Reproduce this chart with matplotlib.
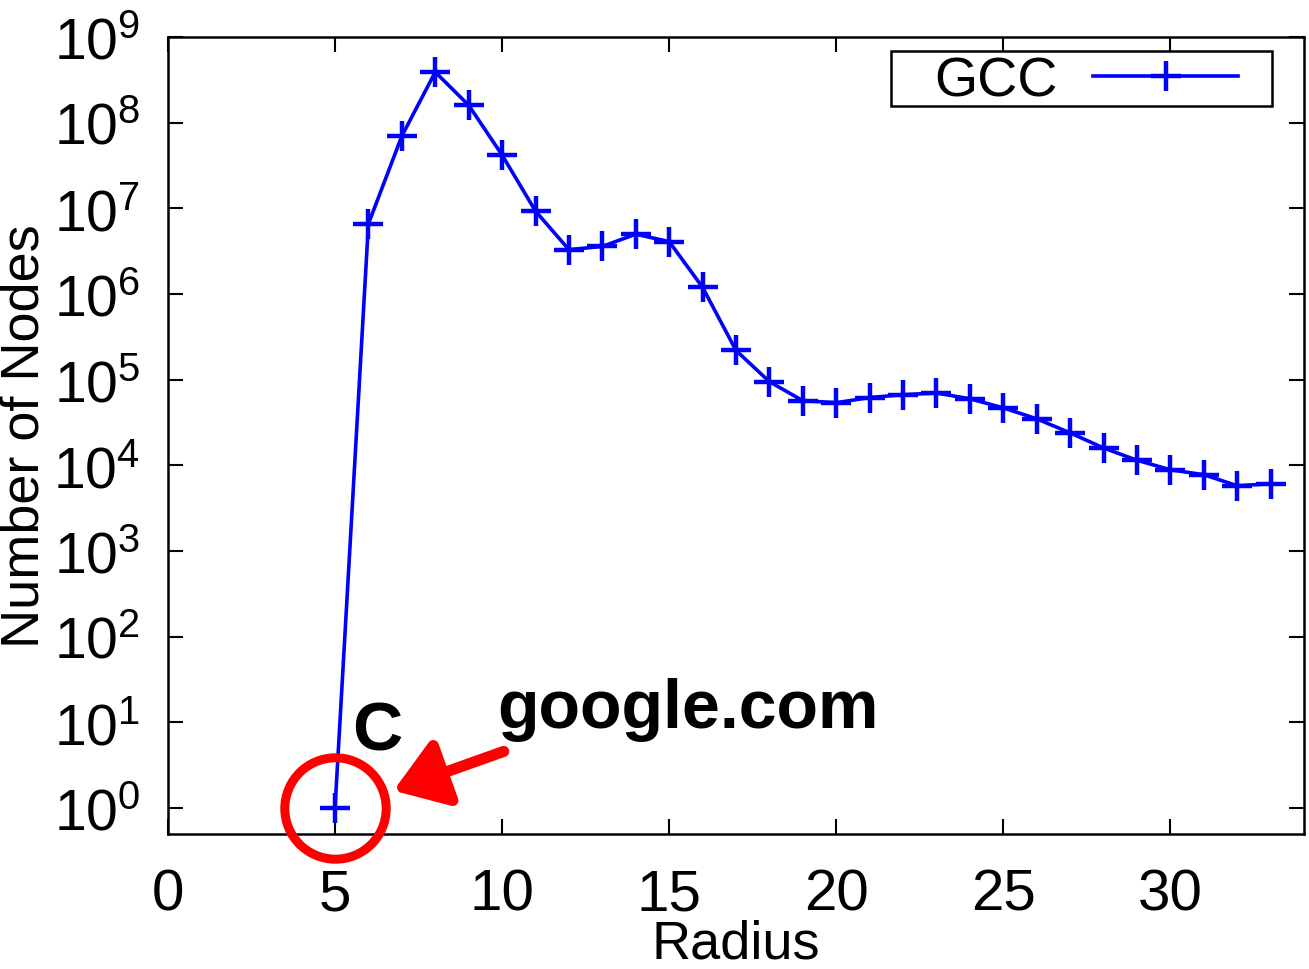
import matplotlib
matplotlib.use('Agg')
import matplotlib.pyplot as plt
from matplotlib.patches import Rectangle, FancyArrowPatch
from matplotlib.ticker import LogLocator, NullLocator

plt.rcParams['font.family'] = ['Liberation Sans', 'DejaVu Sans']

# GCC: number of nodes per radius
radius = [5, 6, 7, 8, 9, 10, 11, 12, 13, 14, 15, 16, 17, 18, 19,
          20, 21, 22, 23, 24, 25, 26, 27, 28, 29, 30, 31, 32, 33]
nodes = [1, 6.6e6, 7e7, 3.9e8, 1.6e8, 4.2e7, 9.3e6, 3.3e6, 3.6e6, 5e6,
         4.1e6, 1.2e6, 2.2e5, 9.5e4, 5.7e4, 5.4e4, 6.2e4, 6.7e4, 7e4,
         6e4, 4.7e4, 3.5e4, 2.4e4, 1.6e4, 1.15e4, 8.9e3, 7.8e3, 5.8e3, 6.1e3]
xticks = [0, 5, 10, 15, 20, 25, 30]
series_label = 'GCC'
note_label = 'google.com'
point_label = 'C'

fig = plt.figure(figsize=(13.09, 9.70), dpi=100, facecolor='white')
ax = fig.add_axes([0.1283, 0.1392, 0.8679, 0.8216])

ax.plot(radius, nodes, color='#0000ff', lw=2.6, marker='+', ms=22, mew=3.2,
        label=series_label)

ax.set_yscale('log')
ax.set_xlim(0, 34)
ax.set_ylim(0.5, 1e9)
ax.set_xticks(xticks)
ax.yaxis.set_major_locator(LogLocator(base=10, numticks=12))
ax.yaxis.set_minor_locator(NullLocator())
ax.tick_params(which='major', direction='in', length=11, width=1.5,
               top=True, right=True)
ax.tick_params(axis='x', labelsize=42, pad=24)
ax.tick_params(axis='y', labelsize=41, pad=20)
for s in ax.spines.values():
    s.set_linewidth(1.8)

ax.set_xlabel('Radius', fontsize=39, labelpad=-2)
ax.set_ylabel('Number of Nodes', fontsize=39, labelpad=3)

# gnuplot-style key: text first, then sample, in a plain box
leg = ax.legend(loc='center', bbox_to_anchor=(0.808, 0.944), fontsize=40,
                markerfirst=False, frameon=False, handlelength=2.6,
                handletextpad=0.65, borderpad=0.0, borderaxespad=0.0)
ax.add_patch(Rectangle((0.6364, 0.9134), 0.3354, 0.069, transform=ax.transAxes,
                       fill=False, ec='black', lw=1.8, zorder=6))

# red circle around the google.com point
ax.plot(radius[0], nodes[0], marker='o', ms=73, mfc='none', mec='#ff0000',
        mew=6.5, clip_on=False, zorder=5)
ax.text(5.5, 4.9, point_label, fontsize=50, fontweight='bold',
        ha='left', va='baseline')
ax.text(9.85, 8.8, note_label, fontsize=49, fontweight='bold',
        ha='left', va='baseline')
ax.add_patch(FancyArrowPatch((10.05, 4.6), (6.75, 1.6),
                             arrowstyle='-|>,head_length=2.2,head_width=1.5',
                             color='#ff0000', lw=8, shrinkA=0, shrinkB=0,
                             mutation_scale=14))

fig.savefig('out.png', dpi=100, facecolor='white')
